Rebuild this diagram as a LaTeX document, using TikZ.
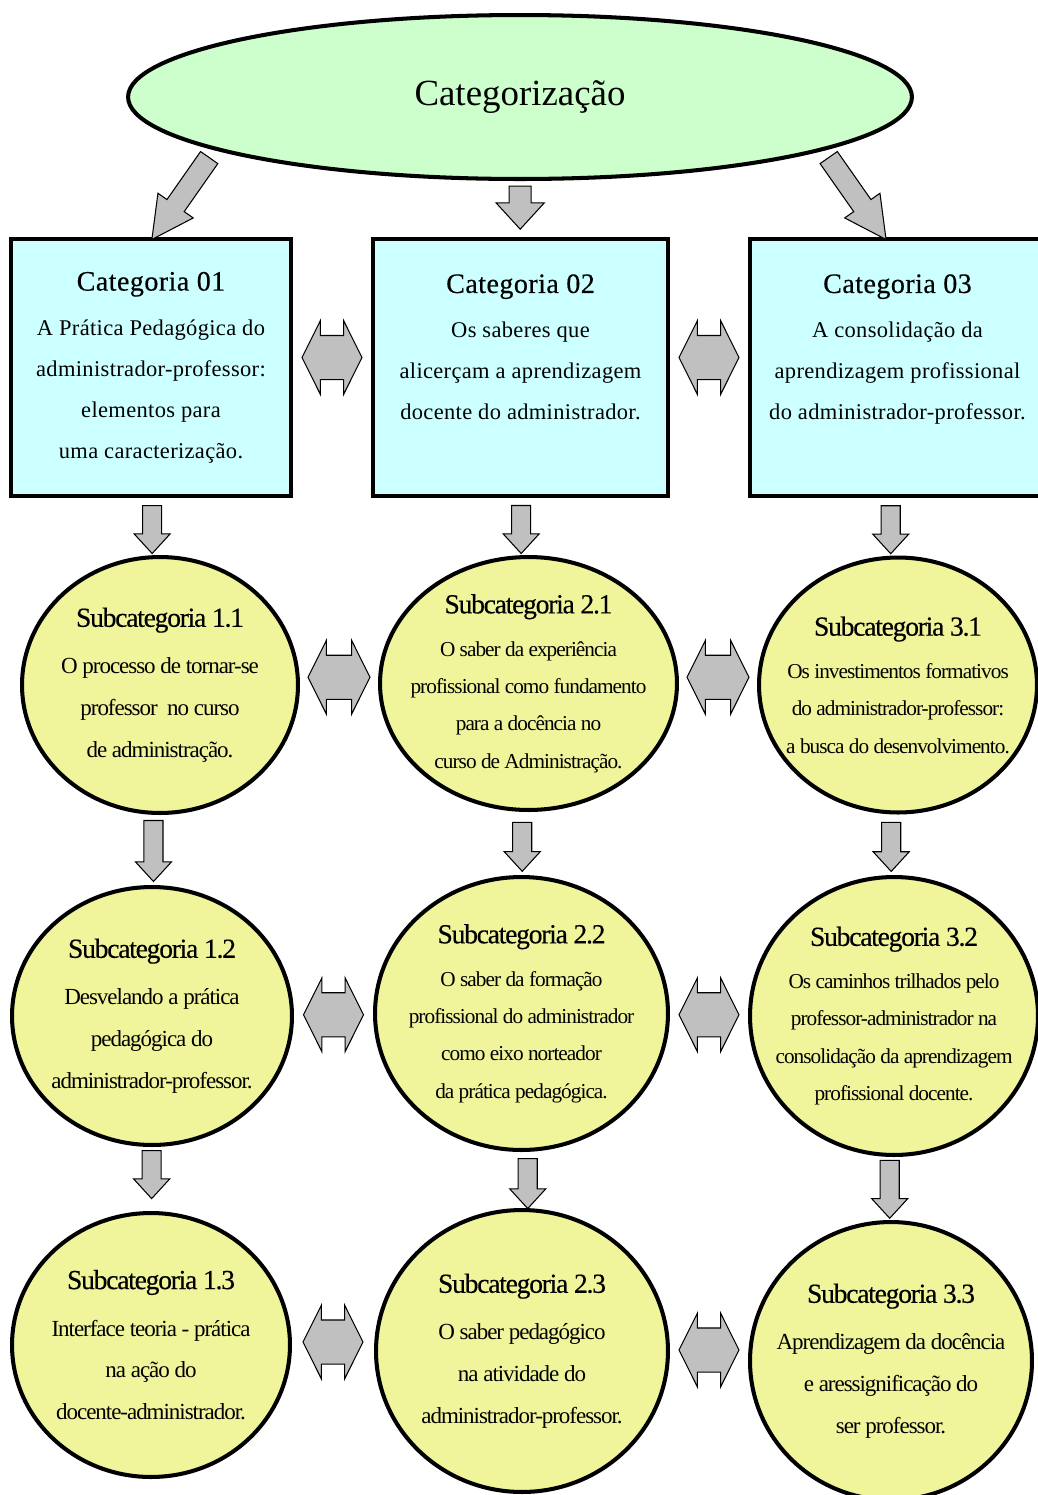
\documentclass[tikz,border=0pt]{standalone}
\usepackage{fontspec}
\setmainfont{Liberation Serif}
\newfontfamily\narrowfont[LetterSpace=-4.5]{Liberation Serif}
\usetikzlibrary{shapes.geometric,shapes.arrows,calc}
\definecolor{topgreen}{RGB}{204,255,204}
\definecolor{catcyan}{RGB}{204,255,255}
\definecolor{subyellow}{RGB}{240,245,155}
\definecolor{arrgray}{RGB}{192,192,192}
\newcommand\cathead[1]{{\addfontfeatures{FakeBold=0.4}\fontsize{16}{18}\selectfont #1}\\[2.3pt]}
\newcommand\subhead[1]{{\addfontfeatures{FakeBold=0.4}\fontsize{15.7}{18}\selectfont #1}\\[3pt]}
\tikzset{
  topell/.style={ellipse, draw, line width=2.3pt, fill=topgreen, minimum width=15.68cm, minimum height=3.28cm, font=\fontsize{21}{25}\selectfont},
  catbox/.style={rectangle, draw, line width=2.5pt, fill=catcyan, minimum width=5.6cm, minimum height=5.14cm, align=center, inner sep=0pt, font=\addfontfeatures{LetterSpace=1.5}\fontsize{12.8}{23.3}\selectfont},
  subell/.style={ellipse, draw, line width=2.3pt, fill=subyellow, align=center, inner sep=-1cm},
  subsmall/.style={subell, font=\narrowfont\fontsize{12.1}{21.3}\selectfont},
  subbig/.style={subell, font=\narrowfont\fontsize{13.1}{23.8}\selectfont},
  blockarr/.style={draw=black, line width=0.6pt, fill=arrgray, inner xsep=0pt},
  dnarr/.style={blockarr, single arrow, rotate=-90, inner ysep=0.18cm, single arrow head extend=0.17cm, single arrow tip angle=85},
  diagarr/.style={blockarr, single arrow, minimum height=2.0cm, inner ysep=0.2cm, single arrow head extend=0.22cm, single arrow tip angle=55},
  dblarr/.style={blockarr, double arrow, minimum height=1.2cm, inner ysep=0.43cm, double arrow head extend=0.3cm, double arrow tip angle=127}
}
\begin{document}
\begin{tikzpicture}[x=0.02cm, y=-0.02cm]
\useasboundingbox (0,0) rectangle (1038,1495);
\node[topell] (top) at (520,97) {Categorização};

\node[catbox] (cat1) at (151,367.5) {\cathead{Categoria 01}A Prática Pedagógica do\\administrador-professor:\\elementos para\\uma caracterização.};
\node[catbox, minimum width=5.9cm] (cat2) at (520.5,367.5) {\cathead{Categoria 02}Os saberes que\\alicerçam a aprendizagem\\docente do administrador.\\\mbox{}};
\node[catbox, minimum width=5.9cm] (cat3) at (897.5,367.5) {\cathead{Categoria 03}A consolidação da\\aprendizagem profissional\\do administrador-professor.\\\mbox{}};

\node[subbig, minimum width=5.52cm, minimum height=5.12cm] (s11) at (160,685) {\subhead{Subcategoria 1.1}O processo de tornar-se\\professor \ no curso\\de administração.};
\node[subsmall, minimum width=5.94cm, minimum height=5.06cm] (s21) at (528.5,683.5) {\subhead{Subcategoria 2.1}O saber da experiência\\profissional como fundamento\\para a docência no\\curso de Administração.};
\node[subsmall, minimum width=5.56cm, minimum height=5.1cm] (s31) at (898,685) {\subhead{Subcategoria 3.1}Os investimentos formativos\\do administrador-professor:\\a busca do desenvolvimento.};

\node[subbig, minimum width=5.6cm, minimum height=5.16cm] (s12) at (152,1016) {\subhead{Subcategoria 1.2}Desvelando a prática\\pedagógica do\\administrador-professor.};
\node[subsmall, minimum width=5.86cm, minimum height=5.46cm] (s22) at (521.5,1013.5) {\subhead{Subcategoria 2.2}O saber da formação\\profissional do administrador\\como eixo norteador\\da prática pedagógica.};
\node[subsmall, minimum width=5.76cm, minimum height=5.56cm] (s32) at (894,1016) {\subhead{Subcategoria 3.2}Os caminhos trilhados pelo\\professor-administrador na\\consolidação da aprendizagem\\profissional docente.};

\node[subbig, minimum width=5.56cm, minimum height=5.28cm] (s13) at (151,1345) {\subhead{Subcategoria 1.3}Interface teoria - prática\\na ação do\\docente-administrador.};
\node[subbig, minimum width=5.84cm, minimum height=5.64cm] (s23) at (522,1351) {\subhead{Subcategoria 2.3}O saber pedagógico\\na atividade do\\administrador-professor.};
\node[subbig, minimum width=5.64cm, minimum height=5.56cm] (s33) at (891,1361) {\subhead{Subcategoria 3.3}Aprendizagem da docência\\e aressignificação do\\ser professor.};

\node[diagarr, rotate=-125] (a1) at ($(top.190)!.46!(cat1.north)$) {};
\node[dnarr, minimum height=0.86cm, inner ysep=0.21cm, single arrow head extend=0.26cm] (a2) at ($(top.south)!.37!(cat2.north)$) {};
\node[diagarr, rotate=-55] (a3) at ($(top.350)!.46!(cat3.north)+(-6,0)$) {};

\node[dblarr] (h1) at ($(cat1.east)!.5!(cat2.west)+(0,-10)$) {};
\node[dblarr] (h2) at ($(cat2.east)!.5!(cat3.west)+(0,-10)$) {};
\node[dblarr, minimum height=1.24cm] (h3) at ($(s11.east)!.5!(s21.west)+(0,-7)$) {};
\node[dblarr, minimum height=1.24cm] (h4) at ($(s21.east)!.5!(s31.west)+(0,-7)$) {};
\node[dblarr] (h5) at ($(s12.east)!.5!(s22.west)$) {};
\node[dblarr] (h6) at ($(s22.east)!.5!(s32.west)$) {};
\node[dblarr] (h7) at ($(s13.east)!.5!(s23.west)+(0,-6)$) {};
\node[dblarr] (h8) at ($(s23.east)!.5!(s33.west)+(0,-6)$) {};

\node[dnarr, minimum height=0.96cm] (v1) at ($(cat1.south)!.46!(s11.north)+(-3,0)$) {};
\node[dnarr, minimum height=0.96cm] (v2) at ($(cat2.south)!.46!(s21.north)+(-3,0)$) {};
\node[dnarr, minimum height=0.96cm] (v3) at ($(cat3.south)!.46!(s31.north)+(-7,0)$) {};
\node[dnarr, minimum height=1.22cm] (v4) at ($(s11.south)!.44!(s12.north)+(-3,0)$) {};
\node[dnarr, minimum height=0.98cm] (v5) at ($(s21.south)!.47!(s22.north)-(3,0)$) {};
\node[dnarr, minimum height=0.98cm] (v6) at ($(s31.south)!.45!(s32.north)-(5,0)$) {};
\node[dnarr, minimum height=0.96cm] (v7) at ($(s12.south)!.35!(s13.north)$) {};
\node[dnarr, minimum height=1.0cm] (v8) at ($(s22.south)!.47!(s23.north)+(6,0)$) {};
\node[dnarr, minimum height=1.16cm] (v9) at ($(s32.south)!.43!(s33.north)-(3,0)$) {};
\end{tikzpicture}
\end{document}
